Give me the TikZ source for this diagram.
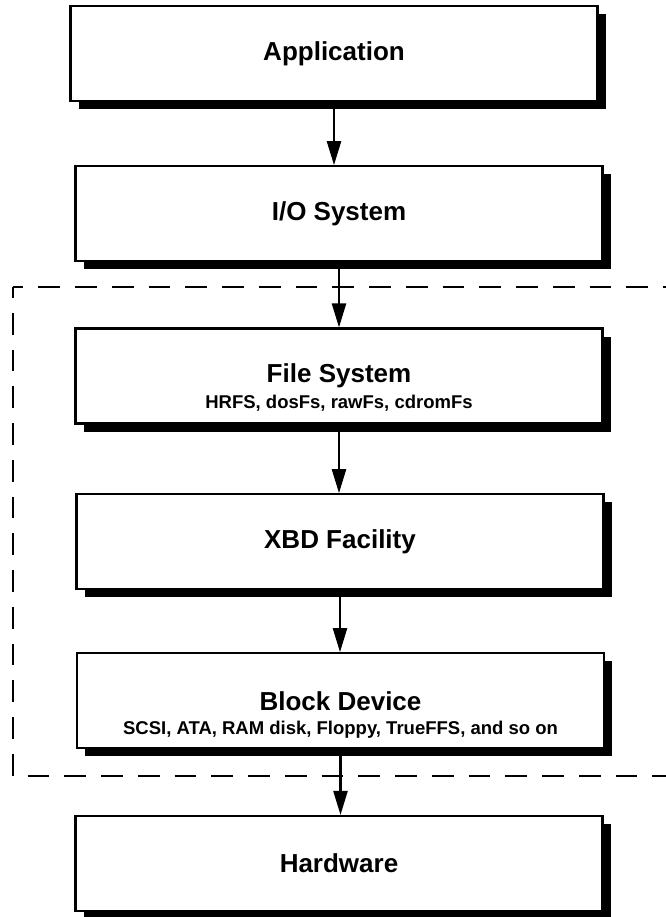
\documentclass[tikz,border=0pt]{standalone}
\usepackage{fontspec}
\setmainfont{Liberation Sans}
\usetikzlibrary{arrows.meta,shadows}

\begin{document}
\begin{tikzpicture}[x=1pt,y=1pt,>={Triangle[length=24pt,width=14pt]},
  layer/.style={draw,fill=white,line width=2.1pt,minimum width=527pt,minimum height=95pt,
    font=\fontsize{26}{30}\selectfont\bfseries,
    drop shadow={shadow xshift=8pt,shadow yshift=-8pt,fill=black,opacity=1}},
  subtxt/.style={anchor=base,inner sep=0pt,font=\fontsize{18.5}{22}\selectfont\bfseries},
  frame/.style={dash pattern=on 21.75pt off 15pt,dash phase=11pt,line width=2pt}]
\useasboundingbox[fill=white] (0,0) rectangle (665,-917);

% dashed group round the storage stack
\draw[frame] (12.5,-287) -- (690,-287);
\draw[frame] (12.5,-287) -- (12.5,-775.5) -- (690,-775.5);

\node[layer] (app) at (334,-53.7) {Application};
\node[layer] (io) at (339,-213.7) {I/O System};
\node[layer] (fs) at (339,-376) {File System};
\node[layer] (xbd) at (340,-541.7) {XBD Facility};
\node[layer] (blk) at (340.5,-700.7) {Block Device};
\node[layer] (hw) at (339,-863.5) {Hardware};

\node[subtxt] (fssub) at ([yshift=16pt]fs.south) {HRFS, dosFs, rawFs, cdromFs};
\node[subtxt] (blksub) at ([yshift=15pt]blk.south) {SCSI, ATA, RAM disk, Floppy, TrueFFS, and so on};

\draw[->,line width=2.3pt] (app) -- (app |- io.north);
\draw[->,line width=2.3pt] (io) -- (io |- fs.north);
\draw[->,line width=2.3pt] (fs) -- (fs |- xbd.north);
\draw[->,line width=2.3pt] (xbd) -- (xbd |- blk.north);
\draw[->,line width=2.3pt] (blk) -- (blk |- hw.north);
\end{tikzpicture}
\end{document}
